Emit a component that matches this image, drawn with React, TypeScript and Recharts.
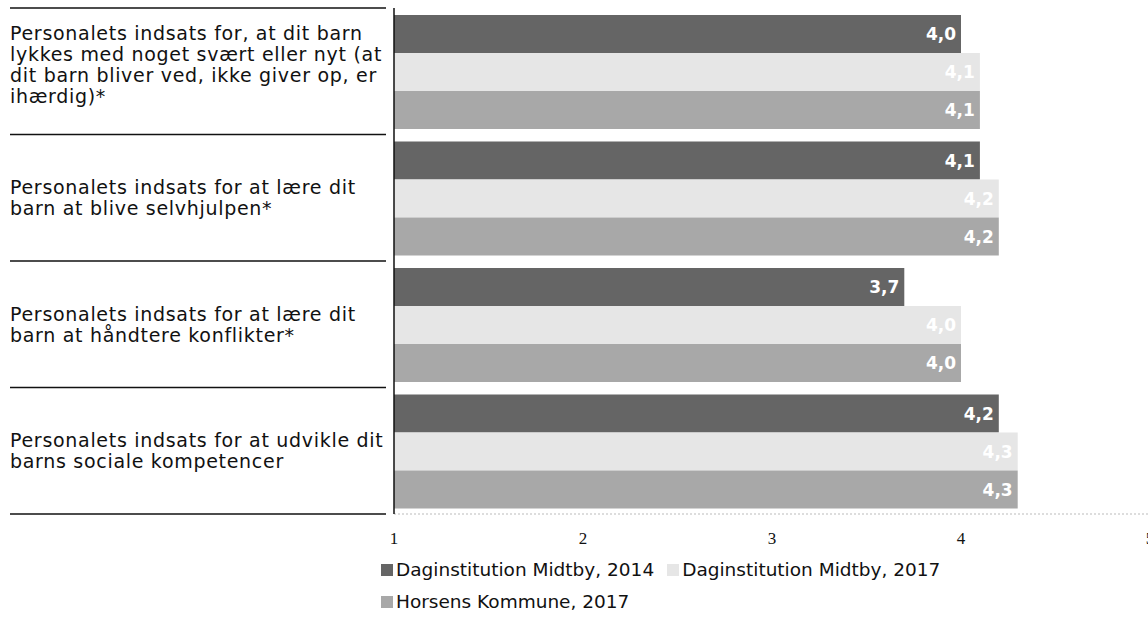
import React from "react";
import { BarChart, Bar, XAxis, YAxis, LabelList } from "recharts";

const categories: string[] = [
  "Personalets indsats for, at dit barn\nlykkes med noget svært eller nyt (at\ndit barn bliver ved, ikke giver op, er\nihærdig)*",
  "Personalets indsats for at lære dit\nbarn at blive selvhjulpen*",
  "Personalets indsats for at lære dit\nbarn at håndtere konflikter*",
  "Personalets indsats for at udvikle dit\nbarns sociale kompetencer",
];
const midtby2014: number[] = [4.0, 4.1, 3.7, 4.2];
const midtby2017: number[] = [4.1, 4.2, 4.0, 4.3];
const horsens2017: number[] = [4.1, 4.2, 4.0, 4.3];
const xTicks: number[] = [1, 2, 3, 4, 5];

const seriesNames = [
  "Daginstitution Midtby, 2014",
  "Daginstitution Midtby, 2017",
  "Horsens Kommune, 2017",
];
const seriesColors = ["#656565", "#e6e6e6", "#a8a8a8"];

const data = categories.map((c, i) => ({
  name: c,
  a: midtby2014[i],
  b: midtby2017[i],
  c: horsens2017[i],
}));

const W = 1160;
const H = 620;
const M = { top: 8, right: 10, bottom: 76, left: 0 };
const X_AXIS_H = 30;
const Y_AXIS_W = 394;
const BAND = (H - M.top - M.bottom - X_AXIS_H) / categories.length;

const labelFont = "'DejaVu Sans', Verdana, sans-serif";

const CatTick = (props: any) => {
  const { x, y, payload, index } = props;
  const lines = String(payload.value).split("\n");
  const lh = 21;
  const lift = Math.max(0, lines.length - 2) * 3.5;
  const startY = y - ((lines.length - 1) * lh) / 2 - lift;
  const left = 10;
  return (
    <g>
      {index === 0 && (
        <line x1={left} x2={x} y1={y - BAND / 2} y2={y - BAND / 2} stroke="#111" strokeWidth={1.5} />
      )}
      <line x1={left} x2={x} y1={y + BAND / 2} y2={y + BAND / 2} stroke="#111" strokeWidth={1.5} />
      <text x={left} y={startY} fontFamily={labelFont} fontSize={19} letterSpacing={0.7} fill="#111" dominantBaseline="central">
        {lines.map((l, i) => (
          <tspan key={i} x={left} y={startY + i * lh}>
            {l}
          </tspan>
        ))}
      </text>
    </g>
  );
};

const NumTick = (props: any) => {
  const { x, y, payload } = props;
  return (
    <text x={x} y={y + 22} textAnchor="middle" fontFamily="'Liberation Serif', serif" fontSize={17} fill="#111">
      {payload.value}
    </text>
  );
};

const fmt = (v: any) => Number(v).toFixed(1).replace(".", ",");

export default function App() {
  return (
    <div style={{ position: "absolute", left: 0, top: 0, width: 1148, height: 620, overflow: "hidden", background: "#fff" }}>
      <BarChart
        width={W}
        height={H}
        data={data}
        layout="vertical"
        margin={M}
        barCategoryGap={7}
        barGap={0}
      >
        <XAxis
          type="number"
          domain={[1, 5]}
          ticks={xTicks}
          allowDataOverflow
          height={X_AXIS_H}
          tickLine={false}
          axisLine={{ stroke: "#bbb", strokeDasharray: "2 2" }}
          tick={<NumTick />}
        />
        <XAxis
          xAxisId="top"
          orientation="top"
          type="number"
          domain={[1, 5]}
          height={0}
          tick={false}
          tickLine={false}
          axisLine={{ stroke: "#bbb", strokeDasharray: "2 2" }}
        />
        <YAxis
          type="category"
          dataKey="name"
          width={Y_AXIS_W}
          tickLine={false}
          axisLine={{ stroke: "#111", strokeWidth: 1.5 }}
          tick={<CatTick />}
          interval={0}
        />
        {(["a", "b", "c"] as const).map((k, i) => (
          <Bar key={k} dataKey={k} name={seriesNames[i]} fill={seriesColors[i]} isAnimationActive={false}>
            <LabelList
              dataKey={k}
              position="insideRight"
              offset={5}
              formatter={fmt}
              style={{ fill: "#fff", fontFamily: labelFont, fontWeight: "bold", fontSize: 17 }}
            />
          </Bar>
        ))}
      </BarChart>
      <div style={{ position: "absolute", left: 381, top: 554, fontFamily: labelFont, fontSize: 18.5, color: "#111", width: 760, lineHeight: "22px" }}>
        <div style={{ display: "flex", height: 32, alignItems: "center" }}>
          {seriesNames.slice(0, 2).map((n, i) => (
            <span key={n} style={{ display: "inline-flex", alignItems: "center", marginRight: 13 }}>
              <span style={{ width: 12, height: 12, background: seriesColors[i], marginRight: 3, display: "inline-block" }} />
              {n}
            </span>
          ))}
        </div>
        <div style={{ display: "flex", height: 32, alignItems: "center" }}>
          <span style={{ display: "inline-flex", alignItems: "center" }}>
            <span style={{ width: 12, height: 12, background: seriesColors[2], marginRight: 3, display: "inline-block" }} />
            {seriesNames[2]}
          </span>
        </div>
      </div>
    </div>
  );
}
